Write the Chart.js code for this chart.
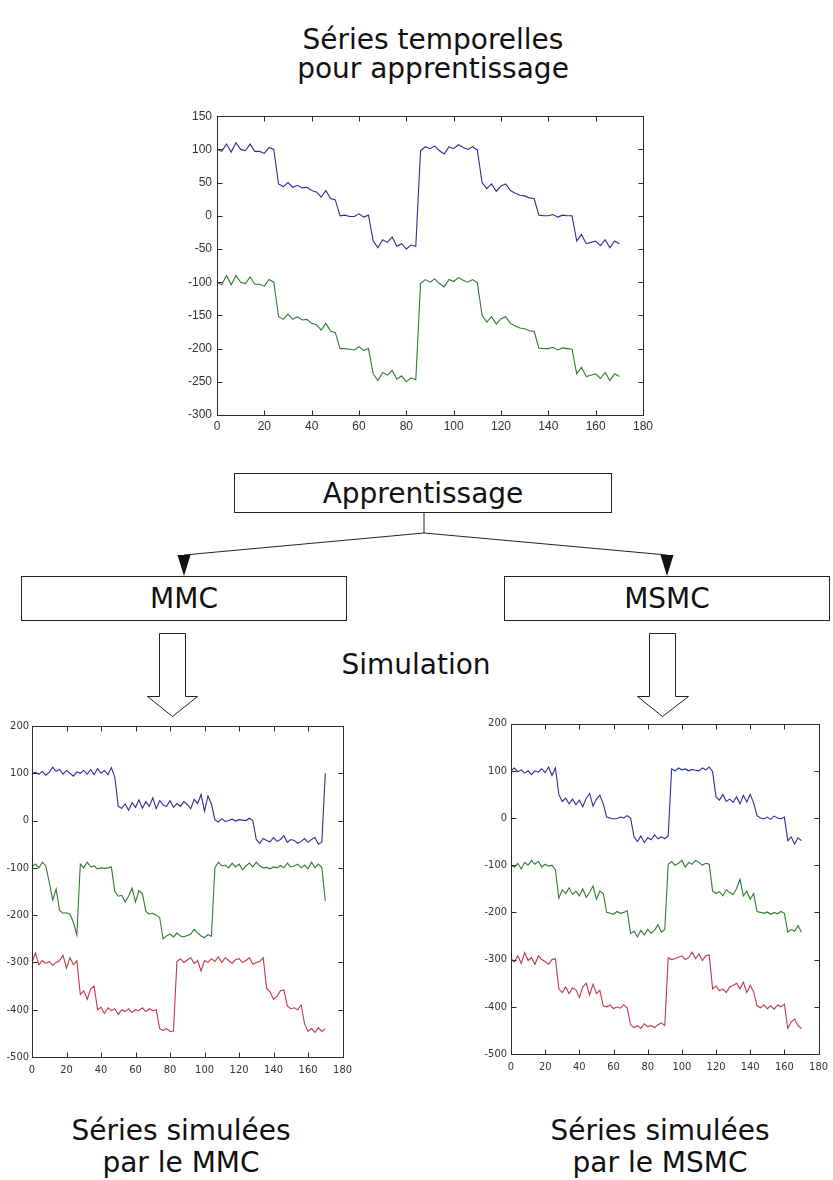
<!DOCTYPE html>
<html lang="fr">
<head>
<meta charset="utf-8">
<title>Séries temporelles</title>
<script src="https://cdn.jsdelivr.net/npm/chart.js@4.4.1/dist/chart.umd.min.js"></script>
<style>
  html, body { margin: 0; padding: 0; background: #fff; }
  #page { position: relative; width: 833px; height: 1180px; overflow: hidden; font-family: "DejaVu Sans", sans-serif; color: #111; }
  .txt { position: absolute; font-size: 28px; line-height: 30px; text-align: center; white-space: nowrap; }
  .boite { position: absolute; border: 1px solid #222; box-sizing: border-box; display: flex; align-items: center; justify-content: center; font-size: 28px; background: #fff; }
  canvas { position: absolute; }
  svg { position: absolute; left: 0; top: 0; }
</style>
</head>
<body>
<div id="page">
  <svg width="833" height="1180">
    <!-- liaisons Apprentissage -> MMC / MSMC -->
    <line x1="424" y1="512" x2="424" y2="533" stroke="#222" stroke-width="1"/>
    <line x1="424" y1="533" x2="184" y2="555" stroke="#222" stroke-width="1"/>
    <line x1="424" y1="533" x2="667" y2="555" stroke="#222" stroke-width="1"/>
    <polygon points="177.5,555 190.5,555 184,576" fill="#111"/>
    <polygon points="660.5,555 673.5,555 667,576" fill="#111"/>
    <!-- grosses fleches creuses (simulation) -->
    <polygon points="159.5,633.5 185.5,633.5 185.5,696.5 197.5,696.5 172.5,716.5 147.5,696.5 159.5,696.5" fill="#fff" stroke="#222" stroke-width="1"/>
    <polygon points="649.5,633.5 675.5,633.5 675.5,696.5 688.5,696.5 662.5,716.5 637.5,696.5 649.5,696.5" fill="#fff" stroke="#222" stroke-width="1"/>
  </svg>

  <div class="txt" style="left:233px; top:25px; width:400px; line-height:29px;">Séries temporelles<br>pour apprentissage</div>
  <div class="boite" style="left:234px; top:473px; width:378px; height:40px;">Apprentissage</div>
  <div class="boite" style="left:21px; top:576px; width:326px; height:45px;">MMC</div>
  <div class="boite" style="left:504px; top:576px; width:326px; height:45px;">MSMC</div>
  <div class="txt" style="left:316px; top:650px; width:200px;">Simulation</div>
  <div class="txt" style="left:31px; top:1115px; width:300px; line-height:32px;">Séries simulées<br>par le MMC</div>
  <div class="txt" style="left:510px; top:1115px; width:300px; line-height:32px;">Séries simulées<br>par le MSMC</div>

  <canvas id="graphApp" width="490" height="335" style="left:170px; top:104px;"></canvas>
  <canvas id="graphMMC" width="359" height="365" style="left:0px; top:716px;"></canvas>
  <canvas id="graphMSMC" width="360" height="365" style="left:475px; top:713px;"></canvas>
</div>

<script>
// abscisses des echantillons (un point sur deux)
const xEchant = [0,2,4,6,8,10,12,14,16,18,20,22,24,26,28,30,32,34,36,38,40,42,44,46,48,50,52,54,56,58,
  60,62,64,66,68,70,72,74,76,78,80,82,84,86,88,90,92,94,96,98,100,102,104,106,108,110,112,114,116,118,
  120,122,124,126,128,130,132,134,136,138,140,142,144,146,148,150,152,154,156,158,160,162,164,166,168,170];

const ticksX = [0,20,40,60,80,100,120,140,160,180];
const ticksApp = [-300,-250,-200,-150,-100,-50,0,50,100,150];
const ticksSim = [-500,-400,-300,-200,-100,0,100,200];

// series d'apprentissage
const appBleu = [100,97,108,96,110,100,98,108,97,97,
  94,103,100,48,44,50,43,46,42,43,
  38,36,28,38,26,24,0,1,-1,-1,
  3,-2,1,-38,-48,-36,-40,-32,-46,-42,
  -50,-44,-46,98,104,101,105,98,93,104,
  101,107,103,100,104,99,50,41,48,37,
  45,48,38,34,31,30,27,26,1,0,
  0,2,-2,1,0,0,-38,-28,-42,-40,
  -38,-45,-36,-48,-38,-42];
const appVert = [-100,-104,-90,-104,-90,-100,-102,-92,-103,-103,
  -106,-96,-100,-152,-156,-148,-156,-152,-157,-156,
  -162,-164,-172,-162,-174,-176,-200,-200,-201,-202,
  -197,-203,-200,-238,-248,-236,-240,-233,-246,-241,
  -250,-244,-247,-102,-96,-100,-95,-102,-107,-96,
  -99,-93,-97,-100,-96,-101,-150,-160,-152,-163,
  -155,-152,-162,-166,-169,-170,-173,-174,-199,-200,
  -200,-198,-202,-199,-200,-201,-238,-228,-242,-240,
  -238,-245,-236,-248,-238,-242];

// series simulees par le MMC
const mmcBleu = [100,102,98,104,96,102,113,104,108,98,
  106,100,94,103,100,106,98,108,97,110,
  100,106,97,112,92,30,26,35,22,38,
  28,44,26,40,30,48,25,42,33,30,
  42,28,36,30,40,34,25,45,36,55,
  20,52,35,2,-3,4,-2,0,3,-1,
  2,1,0,5,0,-40,-48,-38,-42,-45,
  -36,-44,-40,-32,-46,-40,-42,-48,-44,-38,
  -46,-40,-36,-50,-45,100];
const mmcVert = [-98,-92,-100,-88,-96,-130,-168,-145,-190,-196,
  -195,-198,-215,-242,-92,-100,-88,-98,-96,-102,
  -100,-101,-100,-98,-150,-160,-158,-172,-160,-143,
  -172,-148,-155,-192,-198,-196,-200,-205,-250,-244,
  -240,-246,-238,-244,-246,-243,-240,-230,-238,-244,
  -248,-241,-245,-100,-88,-96,-94,-100,-90,-98,
  -92,-104,-96,-90,-98,-88,-96,-100,-99,-102,
  -98,-100,-95,-100,-90,-98,-96,-92,-100,-94,
  -102,-88,-100,-92,-100,-170];
const mmcRouge = [-300,-280,-305,-296,-302,-298,-306,-300,-296,-285,
  -312,-290,-305,-296,-368,-360,-378,-356,-350,-400,
  -395,-408,-396,-402,-398,-410,-400,-404,-398,-406,
  -400,-402,-396,-404,-398,-402,-400,-440,-444,-440,
  -446,-445,-298,-292,-300,-295,-290,-302,-296,-318,
  -296,-300,-292,-298,-288,-300,-290,-296,-302,-294,
  -292,-300,-296,-290,-304,-300,-298,-290,-355,-362,
  -378,-372,-360,-358,-392,-398,-396,-400,-390,-430,
  -446,-440,-448,-438,-446,-440];

// series simulees par le MSMC
const msmcBleu = [100,106,98,102,95,100,92,100,97,104,
  96,108,90,106,50,35,42,30,40,28,
  38,24,42,52,25,40,48,30,2,0,
  -2,-1,2,0,5,0,-40,-50,-38,-52,
  -42,-46,-36,-44,-40,-44,-38,104,100,106,
  102,104,100,103,101,100,106,102,108,98,
  44,38,50,35,40,33,45,30,48,34,
  50,32,5,0,-2,2,-3,4,0,-2,
  2,-48,-40,-55,-42,-48];
const msmcVert = [-100,-104,-96,-108,-94,-100,-90,-98,-92,-104,
  -98,-102,-100,-110,-170,-152,-160,-148,-162,-155,
  -165,-150,-168,-158,-144,-172,-155,-160,-200,-202,
  -204,-198,-202,-200,-196,-245,-240,-252,-238,-248,
  -236,-244,-238,-226,-242,-236,-98,-92,-100,-96,
  -90,-104,-94,-98,-90,-94,-100,-96,-98,-155,
  -160,-156,-165,-152,-158,-162,-150,-130,-165,-155,
  -172,-160,-198,-200,-202,-199,-204,-200,-203,-198,
  -202,-242,-236,-240,-228,-242];
const msmcRouge = [-298,-305,-292,-308,-285,-302,-296,-310,-292,-300,
  -304,-310,-300,-298,-362,-370,-358,-372,-360,-364,
  -380,-358,-350,-375,-352,-372,-365,-398,-400,-396,
  -404,-400,-403,-396,-402,-438,-444,-440,-446,-436,
  -442,-440,-444,-438,-434,-440,-296,-300,-298,-295,
  -292,-300,-296,-284,-298,-288,-302,-292,-290,-362,
  -356,-366,-362,-370,-358,-355,-350,-362,-348,-370,
  -355,-368,-398,-402,-396,-404,-398,-405,-396,-400,
  -394,-446,-432,-426,-440,-446];

const BLEU = '#2e2e96';
const VERT = '#2f7a34';
const ROUGE = '#c0384a';

// cadre façon Matlab : boite fermee + graduations vers l'interieur
const cadreMatlab = {
    id: 'cadreMatlab',
    afterDraw(chart) {
        const ctx = chart.ctx;
        const a = chart.chartArea;
        const sx = chart.scales.x;
        const sy = chart.scales.y;
        const L = Math.round(a.left) + 0.5, R = Math.round(a.right) + 0.5;
        const T = Math.round(a.top) + 0.5, B = Math.round(a.bottom) + 0.5;
        ctx.save();
        ctx.strokeStyle = '#2b2b2b';
        ctx.lineWidth = 1;
        ctx.beginPath();
        sx.ticks.forEach(t => {
            const px = Math.round(sx.getPixelForValue(t.value)) + 0.5;
            ctx.moveTo(px, B); ctx.lineTo(px, B - 5);
            ctx.moveTo(px, T); ctx.lineTo(px, T + 5);
        });
        sy.ticks.forEach(t => {
            const py = Math.round(sy.getPixelForValue(t.value)) + 0.5;
            ctx.moveTo(L, py); ctx.lineTo(L + 5, py);
            ctx.moveTo(R, py); ctx.lineTo(R - 5, py);
        });
        ctx.stroke();
        ctx.strokeRect(L, T, R - L, B - T);
        ctx.restore();
    }
};

function creerGraphe(id, series, couleurs, ticksY, cfg) {
    const ctx = document.getElementById(id);
    return new Chart(ctx, {
        type: 'line',
        data: {
            datasets: series.map((s, i) => ({
                data: xEchant.map((x, k) => ({ x: x, y: s[k] })),
                borderColor: couleurs[i],
                borderWidth: 1.1,
                pointRadius: 0,
                tension: 0,
                fill: false
            }))
        },
        options: {
            responsive: false,
            animation: false,
            devicePixelRatio: 1,
            layout: { padding: { top: cfg.padTop, right: cfg.padRight, left: 0, bottom: 0 } },
            plugins: { legend: { display: false }, tooltip: { enabled: false } },
            scales: {
                x: {
                    type: 'linear',
                    min: ticksX[0],
                    max: ticksX[ticksX.length - 1],
                    afterBuildTicks: s => { s.ticks = ticksX.map(v => ({ value: v })); },
                    ticks: { color: '#333', font: cfg.police, padding: cfg.padX, maxRotation: 0, autoSkip: false },
                    grid: { display: false, drawTicks: false },
                    border: { display: false },
                    afterFit: s => { s.height = cfg.hautX; }
                },
                y: {
                    type: 'linear',
                    min: ticksY[0],
                    max: ticksY[ticksY.length - 1],
                    afterBuildTicks: s => { s.ticks = ticksY.map(v => ({ value: v })); },
                    ticks: { color: '#333', font: cfg.police, padding: cfg.padY, autoSkip: false },
                    grid: { display: false, drawTicks: false },
                    border: { display: false },
                    afterFit: s => { s.width = cfg.largY; }
                }
            }
        },
        plugins: [cadreMatlab]
    });
}

const policeHaut = { family: '"Liberation Sans", Arial, sans-serif', size: 12 };
const policeBas = { family: '"Liberation Sans Narrow", "DejaVu Sans Condensed", "Liberation Sans", sans-serif', size: 11 };

creerGraphe('graphApp', [appBleu, appVert], [BLEU, VERT], ticksApp,
    { padTop: 12, padRight: 17, hautX: 24, largY: 47, padX: 4, padY: 5, police: policeHaut });
creerGraphe('graphMMC', [mmcBleu, mmcVert, mmcRouge], [BLEU, VERT, ROUGE], ticksSim,
    { padTop: 10, padRight: 12, hautX: 24, largY: 32, padX: 7, padY: 3, police: policeBas });
creerGraphe('graphMSMC', [msmcBleu, msmcVert, msmcRouge], [BLEU, VERT, ROUGE], ticksSim,
    { padTop: 10, padRight: 10, hautX: 24, largY: 36, padX: 7, padY: 4, police: policeBas });
</script>
</body>
</html>
